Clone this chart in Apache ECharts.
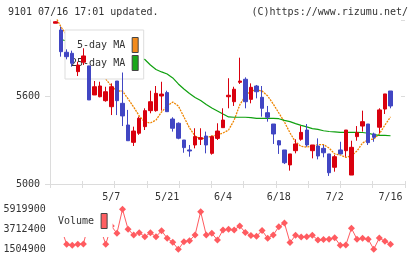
<!DOCTYPE html>
<html>
<head>
<meta charset="utf-8">
<script src="https://cdn.jsdelivr.net/npm/echarts@6/dist/echarts.min.js"></script>
<style>
  html, body { margin:0; padding:0; background:#fff; }
  #chart { width:420px; height:259px; }
</style>
</head>
<body>
<div id="chart"></div>
<script>
  // trading days 4/18 - 7/16
  const dates = ['4/18','4/21','4/22','4/23','4/24','4/25','4/28','4/30','5/1','5/2',
    '5/7','5/8','5/9','5/12','5/13','5/14','5/15','5/16','5/19','5/20',
    '5/21','5/22','5/23','5/26','5/27','5/28','5/29','5/30','6/2','6/3',
    '6/4','6/5','6/6','6/9','6/10','6/11','6/12','6/13','6/16','6/17',
    '6/18','6/19','6/20','6/23','6/24','6/25','6/26','6/27','6/30','7/1',
    '7/2','7/3','7/4','7/7','7/8','7/9','7/10','7/11','7/14','7/15','7/16'];

  const opens = [6096,6050,5898,5891,5766,5830,5805,5607,5595,5568,
    5527,5702,5550,5402,5284,5346,5391,5500,5500,5600,
    5623,5443,5414,5300,5232,5266,5305,5327,5209,5311,
    5384,5595,5561,5693,5714,5577,5668,5591,5486,5409,
    5295,5232,5130,5227,5305,5368,5227,5259,5243,5205,
    5114,5232,5227,5061,5323,5395,5409,5341,5387,5511,5634];
  const closes = [6106,5902,5868,5823,5811,5873,5573,5663,5668,5629,
    5663,5568,5464,5295,5361,5448,5500,5561,5618,5613,
    5493,5380,5312,5248,5225,5323,5316,5266,5323,5361,
    5436,5605,5646,5702,5561,5659,5629,5516,5455,5341,
    5266,5145,5205,5273,5352,5266,5266,5191,5213,5077,
    5186,5205,5368,5250,5350,5425,5282,5318,5505,5614,5532];
  const lows = [6096,5868,5850,5800,5736,5811,5573,5607,5591,5561,
    5470,5470,5395,5295,5259,5335,5368,5482,5493,5500,
    5493,5357,5305,5213,5186,5243,5266,5209,5200,5300,
    5384,5516,5532,5682,5516,5550,5584,5459,5425,5273,
    5205,5136,5091,5209,5295,5254,5175,5168,5182,5055,
    5084,5205,5186,5061,5295,5357,5266,5288,5346,5477,5516];
  const highs = [6110,6072,5918,5909,5834,5925,5805,5702,5697,5663,
    5686,5702,5760,5505,5391,5460,5516,5636,5668,5697,
    5636,5455,5420,5300,5266,5380,5380,5357,5330,5414,
    5516,5721,5663,5861,5727,5686,5675,5668,5532,5409,
    5300,5232,5205,5305,5395,5409,5266,5311,5266,5205,
    5198,5288,5368,5295,5395,5500,5409,5350,5516,5614,5634];

  const ma5 = [6140,6070,6016,5968,5914,5859,5805,5764,5736,5716,
    5668,5634,5634,5580,5525,5464,5423,5416,5436,5491,
    5532,5559,5532,5457,5382,5327,5307,5314,5327,5334,
    5348,5368,5436,5539,5600,5634,5641,5634,5600,5545,
    5484,5423,5348,5286,5256,5252,5259,5269,5269,5245,
    5205,5198,5181,5194,5225,5280,5300,5307,5341,5402,5457];
  const ma25 = [null,5985,5975,5968,5961,5955,5948,5941,5931,5920,
    5914,5903,5893,5883,5873,5862,5849,5811,5781,5764,
    5750,5723,5682,5648,5617,5590,5569,5542,5518,5498,
    5477,5457,5455,5455,5455,5453,5448,5448,5448,5448,
    5445,5434,5425,5412,5400,5389,5378,5372,5363,5358,
    5355,5352,5352,5352,5352,5351,5346,5337,5332,5331,5329];

  const volumes = [4043500,3822800,2023700,1913300,2023700,2056800,4485000,3602000,3822800,2023700,
    4043500,3237800,5886800,3679300,3050200,3304000,2862500,3304000,2862500,3524800,
    2685900,2244400,1471800,2310600,2421000,3050200,5621900,3050200,3237800,2498300,
    3602000,3690300,3602000,4043500,3326100,2995000,2906700,3546800,2685900,3050200,
    3966300,4374700,2222300,3017000,2829400,2862500,3017000,2498300,2542400,2586600,
    2752100,1913300,1946400,3789700,2586600,2685900,2586600,1482800,2719000,2354800,2023700];

  const font = 'DejaVu Sans Mono';
  const txt = { fontFamily: font, fontSize: 10, color: '#333', fontWeight: 'normal' };
  const lineGray = '#dcdcdc';
  const upColor = '#d9000e';
  const downColor = '#4146c3';

  const candles = dates.map((d, i) => [opens[i], closes[i], lows[i], highs[i]]);

  const chart = echarts.init(document.getElementById('chart'));

  const option = {
    animation: false,
    backgroundColor: '#fff',
    title: [
      { text: '9101 07/16 17:01 updated.', left: 8, top: 7, padding: 0, textStyle: txt },
      { text: '(C)https://www.rizumu.net/', right: 12, top: 7, padding: 0, textStyle: txt }
    ],
    legend: [
      {
        data: [
          { name: '5-day MA', itemStyle: { color: '#f28b1c', borderColor: '#444', borderWidth: 1 } },
          { name: '25-day MA', itemStyle: { color: '#1aa81a', borderColor: '#444', borderWidth: 1 } }
        ],
        orient: 'vertical', align: 'right', icon: 'rect',
        left: 65, top: 30,
        itemWidth: 6, itemHeight: 15, itemGap: 2,
        padding: [7, 5, 8, 6],
        backgroundColor: '#fff', borderColor: '#ddd', borderWidth: 1,
        selectedMode: false, z: 4,
        textStyle: Object.assign({}, txt, { padding: [0, 2, 0, 0] })
      },
      {
        data: [
          { name: 'Volume', itemStyle: { color: '#ff5f62', borderColor: '#444', borderWidth: 1 } }
        ],
        orient: 'vertical', align: 'right', icon: 'rect',
        left: 49, top: 206,
        itemWidth: 6, itemHeight: 15,
        padding: [7, 5, 8, 9],
        backgroundColor: '#fff', borderWidth: 0,
        selectedMode: false, z: 4,
        textStyle: Object.assign({}, txt, { padding: [0, 2, 0, 0] })
      }
    ],
    grid: [
      { left: 52.7, right: 26.7, top: 20, bottom: 75, outerBoundsMode: 'none' },
      { left: 50, right: 15, top: 20, bottom: 75, outerBoundsMode: 'none' },
      { left: 52.7, right: 26.7, top: 209, bottom: 10, outerBoundsMode: 'none' }
    ],
    xAxis: [
      {
        gridIndex: 1, type: 'value', min: 0, max: 11, interval: 1,
        axisLine: { onZero: false, lineStyle: { color: lineGray } },
        axisTick: { length: 4, lineStyle: { color: lineGray } },
        axisLabel: { show: false }, splitLine: { show: false }
      },
      {
        gridIndex: 1, type: 'value', min: 0, max: 11, interval: 1, position: 'bottom',
        axisLine: { show: false, onZero: false },
        axisTick: { inside: true, length: 3, lineStyle: { color: lineGray } },
        axisLabel: { show: false }, splitLine: { show: false }
      },
      {
        gridIndex: 0, type: 'category', data: dates, boundaryGap: true,
        axisLine: { show: false }, axisTick: { show: false },
        axisLabel: Object.assign({}, txt, {
          margin: 8,
          interval: (idx) => idx % 10 === 0 && idx > 0
        }),
        splitLine: { show: false }
      },
      {
        gridIndex: 2, type: 'category', data: dates, boundaryGap: true, show: false
      }
    ],
    yAxis: [
      {
        gridIndex: 1, type: 'value', min: 5000, max: 6118, interval: 600,
        axisLine: { show: true, onZero: false, lineStyle: { color: lineGray } },
        axisTick: { show: true, length: 5, lineStyle: { color: lineGray } },
        axisLabel: Object.assign({}, txt, { margin: 10, showMaxLabel: false, formatter: (v) => String(v) }),
        splitLine: { show: false }
      },
      {
        gridIndex: 1, type: 'value', min: 5000, max: 6118, interval: 600,
        axisLine: { show: false, onZero: false },
        axisTick: { show: true, inside: true, length: 4, lineStyle: { color: lineGray } },
        axisLabel: { show: false }, splitLine: { show: false }
      },
      {
        gridIndex: 0, type: 'value', min: 5000, max: 6118, show: false
      },
      {
        gridIndex: 2, type: 'value', min: 1504900, max: 5919900, interval: 2207500,
        axisLine: { show: false }, axisTick: { show: false },
        axisLabel: Object.assign({}, txt, { margin: 7, formatter: (v) => String(v) }),
        splitLine: { show: false }
      }
    ],
    series: [
      {
        name: 'Price', type: 'candlestick',
        xAxisIndex: 2, yAxisIndex: 2,
        data: candles, barWidth: 4, clip: true, z: 5,
        itemStyle: {
          color: upColor, color0: downColor,
          borderColor: upColor, borderColor0: downColor, borderWidth: 1
        }
      },
      {
        name: '5-day MA', type: 'line',
        xAxisIndex: 2, yAxisIndex: 2,
        data: ma5, symbol: 'none', z: 2,
        itemStyle: { color: '#ee8500' },
        lineStyle: { color: '#ee8500', width: 1.3, type: [2, 1] }
      },
      {
        name: '25-day MA', type: 'line',
        xAxisIndex: 2, yAxisIndex: 2,
        data: ma25, symbol: 'none', z: 2,
        itemStyle: { color: '#0fa00f' },
        lineStyle: { color: '#0fa00f', width: 1.2 }
      },
      {
        name: 'Volume', type: 'line',
        xAxisIndex: 3, yAxisIndex: 3,
        data: volumes, symbol: 'diamond', symbolSize: 7, showAllSymbol: true,
        clip: false, z: 2,
        itemStyle: { color: '#ff5b60' },
        lineStyle: { color: '#ff5b60', width: 1 }
      }
    ]
  };

  chart.setOption(option);
</script>
</body>
</html>
